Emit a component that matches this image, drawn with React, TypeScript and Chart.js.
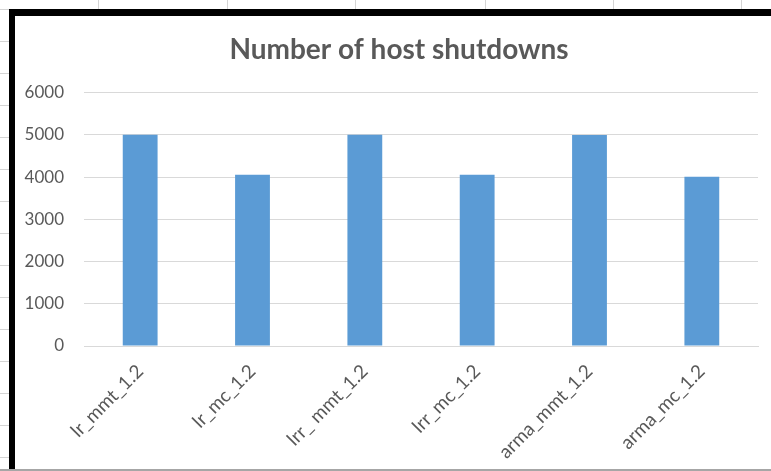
import React, { useEffect, useRef } from "react";
import { Chart, registerables } from "chart.js";

Chart.register(...registerables);

const categories = ["lr_mmt_1.2", "lr_mc_1.2", "lrr_ mmt_1.2", "lrr_mc_1.2", "arma_mmt_1.2", "arma_mc_1.2"];
const shutdowns = [5000, 4055, 5000, 4055, 4995, 4010];
const yTicks = [0, 1000, 2000, 3000, 4000, 5000, 6000];
const titleText = "Number of host shutdowns";

const rowLines = [9, 41, 73, 105, 137, 169, 201, 233, 265, 297, 329, 361, 393, 425, 457];
const colLines = [98, 227, 355, 485, 613, 741];

const titleShift = {
  id: "titleShift",
  afterLayout(chart: any) {
    const t = chart.titleBlock;
    if (t) {
      t.left += 25;
    }
  },
};

export default function App() {
  const ref = useRef<HTMLCanvasElement | null>(null);

  useEffect(() => {
    document.body.style.margin = "0";
    const canvas = ref.current;
    if (!canvas) return;
    const chart = new Chart(canvas, {
      type: "bar",
      data: {
        labels: categories,
        datasets: [
          {
            label: "Shutdowns",
            data: shutdowns,
            backgroundColor: "#5b9bd5",
            borderWidth: 0,
            barPercentage: 0.31,
            categoryPercentage: 1,
          },
        ],
      },
      plugins: [titleShift],
      options: {
        animation: false,
        responsive: false,
        maintainAspectRatio: false,
        layout: { padding: { left: 0, right: 13, top: 0, bottom: 0 } },
        plugins: {
          legend: { display: false },
          tooltip: { enabled: false },
          title: {
            display: true,
            text: titleText,
            color: "#595959",
            font: { family: "Lato", size: 28, weight: "bold" },
            padding: { top: 17, bottom: 26 },
          },
        },
        scales: {
          x: {
            grid: { display: false, drawTicks: false },
            border: { display: true, color: "#d9d9d9", width: 1 },
            ticks: {
              color: "#595959",
              font: { family: "Lato", size: 19 },
              maxRotation: 45,
              minRotation: 45,
              padding: 14,
              autoSkip: false,
            },
            afterFit: (scale: any) => {
              scale.height = 123;
            },
          },
          y: {
            min: 0,
            max: 6000,
            afterBuildTicks: (scale: any) => {
              scale.ticks = yTicks.map((v) => ({ value: v }));
            },
            grid: { color: "#d9d9d9", drawTicks: false },
            border: { display: false },
            ticks: {
              color: "#595959",
              font: { family: "Lato", size: 17 },
              padding: 20,
              callback: (v: any) => String(v),
            },
            afterFit: (scale: any) => {
              scale.width = 69;
            },
          },
        },
      },
    });
    return () => chart.destroy();
  }, []);

  return (
    <div style={{ position: "relative", width: 771, height: 471, overflow: "hidden", background: "#fff" }}>
      {rowLines.map((y) => (
        <div key={"r" + y} style={{ position: "absolute", left: 0, top: y, width: 9, height: 1, background: "#d4d4d4" }} />
      ))}
      {colLines.map((x) => (
        <div key={"c" + x} style={{ position: "absolute", left: x, top: 0, width: 1, height: 9, background: "#d4d4d4" }} />
      ))}
      <div
        style={{
          position: "absolute",
          left: 9,
          top: 9,
          width: 800,
          height: 460,
          borderLeft: "6px solid #000",
          borderTop: "7px solid #000",
          background: "#fff",
        }}
      />
      <div style={{ position: "absolute", left: 15, top: 16, width: 756, height: 453 }}>
        <canvas ref={ref} width={756} height={453} style={{ display: "block", width: 756, height: 453 }} />
      </div>
      <div style={{ position: "absolute", left: 0, top: 469, width: 771, height: 2, background: "#a6a6a6" }} />
    </div>
  );
}
